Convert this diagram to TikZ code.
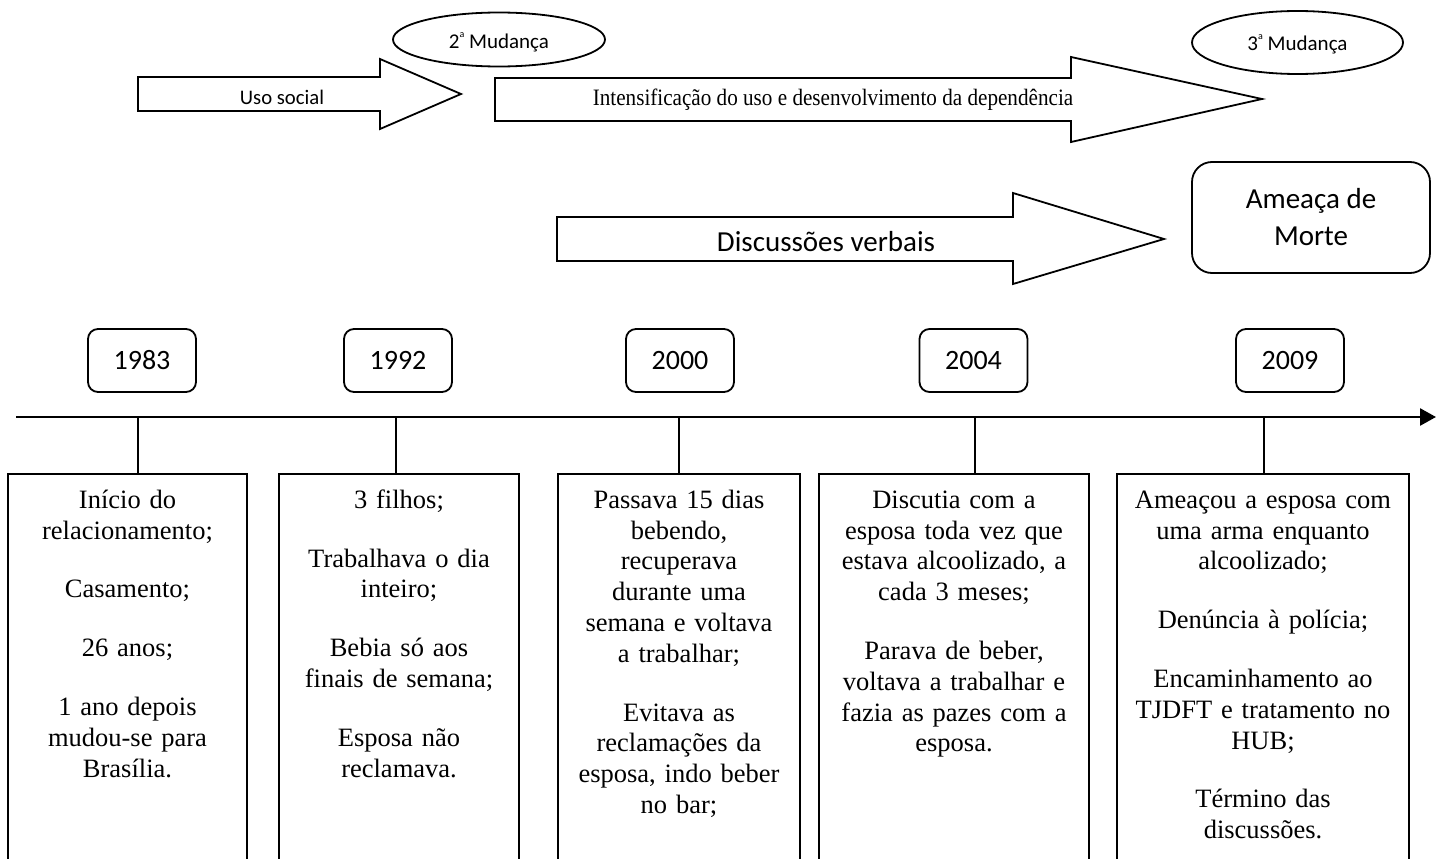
\documentclass[tikz,border=0pt]{standalone}
\usepackage{fontspec}
\setmainfont{Liberation Serif}
\newfontfamily\calib{Carlito}
\usetikzlibrary{shapes.geometric,arrows.meta}

% small raised "a" of the ordinal labels
\newcommand{\ordsup}[1]{#1\raisebox{0.5em}{\fontsize{10}{10}\selectfont a}}

\tikzset{
  outline/.style={draw=black, line width=1.8pt},
  blockarrow/.style={outline, fill=white, line join=miter},
  phase/.style={ellipse, outline, minimum width=212pt, minimum height=54pt,
    inner sep=0pt, text height=20pt, text depth=2pt,
    font=\calib\fontsize{21}{25}\selectfont},
  arrowlabel/.style={anchor=base, inner sep=0pt},
  yearbox/.style={rectangle, rounded corners=10pt, outline, minimum width=108pt,
    minimum height=63pt, font=\calib\fontsize{28}{32}\selectfont},
  eventbox/.style={rectangle, outline, anchor=north, minimum height=420pt},
  eventtext/.style={anchor=north, align=center, inner sep=0pt,
    font=\fontsize{26.5}{30.8}\selectfont},
  ticklink/.style={line width=1.6pt},
}

\begin{document}
\begin{tikzpicture}[x=1pt,y=-1pt]
\useasboundingbox (0,0) rectangle (1440,859);
\clip (0,0) rectangle (1440,859);

% ---- phases of use ----
\draw[blockarrow] (138,77) -- (380,77) -- (380,59) -- (461,94) -- (380,129)
  -- (380,111) -- (138,111) -- cycle;
\node[arrowlabel, font=\calib\fontsize{20.7}{24}\selectfont] (uso) at (282,104) {Uso social};

\draw[blockarrow] (495,78) -- (1071,78) -- (1071,57) -- (1262,99) -- (1071,142)
  -- (1071,121) -- (495,121) -- cycle;
\node[arrowlabel, font=\fontsize{23.5}{28}\selectfont] (intens) at (833,105)
  {\scalebox{0.9}[1]{Intensificação do uso e desenvolvimento da dependência}};

\node[phase] (mud2) at (499,39.5) {\ordsup{2} Mudança};
\node[phase, minimum width=211pt, minimum height=63pt, text height=18pt]
  (mud3) at (1297.5,42.5) {\ordsup{3} Mudança};

% ---- conflicts ----
\draw[blockarrow] (557,217) -- (1013,217) -- (1013,193) -- (1164,239) -- (1013,284)
  -- (1013,261) -- (557,261) -- cycle;
\node[arrowlabel, font=\calib\fontsize{29}{34}\selectfont] (disc) at (826,251) {Discussões verbais};

\node[rectangle, rounded corners=20pt, outline, minimum width=238pt, minimum height=111pt,
  align=center, font=\calib\fontsize{29}{37}\selectfont] (ameaca) at (1311,217.5)
  {Ameaça de\\Morte};

% ---- years ----
\node[yearbox] (y1983) at (142,360.5) {1983};
\node[yearbox] (y1992) at (398,360.5) {1992};
\node[yearbox] (y2000) at (680,360.5) {2000};
\node[yearbox] (y2004) at (973.5,360.5) {2004};
\node[yearbox] (y2009) at (1290,360.5) {2009};

% ---- time line ----
\coordinate (tl0) at (16,417);
\coordinate (tl1) at (1436,417);
\draw[line width=2.6pt, -{Triangle[length=16pt,width=17pt]}] (tl0) -- (tl1);

\coordinate (k1) at (138,417);
\coordinate (k2) at (396,417);
\coordinate (k3) at (679,417);
\coordinate (k4) at (975,417);
\coordinate (k5) at (1264,417);

% ---- events ----
\node[eventbox, minimum width=239pt] (b1) at (127.5,473) {};
\node[eventbox, minimum width=240pt] (b2) at (399,473) {};
\node[eventbox, minimum width=242pt] (b3) at (679,473) {};
\node[eventbox, minimum width=270pt] (b4) at (954,473) {};
\node[eventbox, minimum width=292pt] (b5) at (1263,473) {};

\foreach \k/\b in {k1/b1,k2/b2,k3/b3,k4/b4,k5/b5}
  \draw[ticklink] (\k) -- (\k |- \b.north);

\node[eventtext, text width=239pt] (t1) at (127.5,487)
  {\rule{0pt}{21pt}Início do\\relacionamento;\\[28pt]
   Casamento;\\[28pt]
   26 anos;\\[28pt]
   1 ano depois\\mudou-se para\\Brasília.};
\node[eventtext, text width=240pt] (t2) at (399,487)
  {\rule{0pt}{21pt}3 filhos;\\[28pt]
   Trabalhava o dia\\inteiro;\\[28pt]
   Bebia só aos\\finais de semana;\\[28pt]
   Esposa não\\reclamava.};
\node[eventtext, text width=242pt] (t3) at (679,487)
  {\rule{0pt}{21pt}Passava 15 dias\\bebendo,\\recuperava\\durante uma\\semana e voltava\\a trabalhar;\\[28pt]
   Evitava as\\reclamações da\\esposa, indo beber\\no bar;};
\node[eventtext, text width=270pt] (t4) at (954,487)
  {\rule{0pt}{21pt}Discutia com a\\esposa toda vez que\\estava alcoolizado, a\\cada 3 meses;\\[28pt]
   Parava de beber,\\voltava a trabalhar e\\fazia as pazes com a\\esposa.};
\node[eventtext, text width=292pt] (t5) at (1263,487)
  {\rule{0pt}{21pt}Ameaçou a esposa com\\uma arma enquanto\\alcoolizado;\\[28pt]
   Denúncia à polícia;\\[28pt]
   Encaminhamento ao\\TJDFT e tratamento no\\HUB;\\[28pt]
   Término das\\discussões.};
\end{tikzpicture}
\end{document}
